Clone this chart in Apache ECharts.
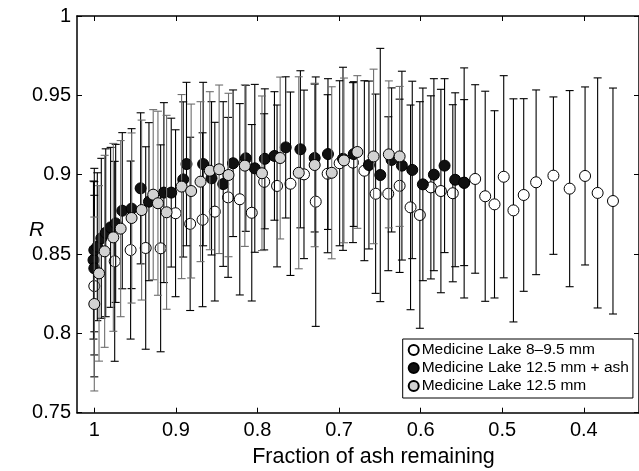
<!DOCTYPE html>
<html><head><meta charset="utf-8">
<script src="https://cdn.jsdelivr.net/npm/echarts@6/dist/echarts.min.js"></script>
<style>html,body{margin:0;padding:0;background:#fff}#c{width:639px;height:471px}</style>
</head><body><div id="c"></div>
<script>
const seriesNames = ['Medicine Lake 8–9.5 mm', 'Medicine Lake 12.5 mm + ash', 'Medicine Lake 12.5 mm'];
const xTickValues = [1, 0.9, 0.8, 0.7, 0.6, 0.5, 0.4];
const xTitle = 'Fraction of ash remaining';
const yTitle = 'R';

// Medicine Lake 8–9.5 mm (open)
const openX = [1.000,0.975,0.9555,0.937,0.9187,0.9004,0.8825,0.8673,0.8523,0.836,0.8217,0.807,0.7918,0.776,0.7596,0.743,0.7286,0.714,0.6993,0.683,0.669,0.6552,0.6397,0.6258,0.6124,0.601,0.5875,0.5752,0.5606,0.5467,0.5332,0.5209,0.5095,0.4982,0.4863,0.4737,0.4585,0.4373,0.4174,0.3985,0.3831,0.3643];
const openY = [0.8298,0.8454,0.8525,0.8538,0.8536,0.8757,0.869,0.8716,0.8767,0.8857,0.8845,0.876,0.8955,0.8929,0.8943,0.9002,0.883,0.9006,0.9072,0.9076,0.9025,0.888,0.888,0.893,0.8794,0.8746,0.892,0.8897,0.8883,0.8948,0.8973,0.8864,0.8813,0.8987,0.8775,0.8872,0.8952,0.8994,0.8912,0.8992,0.8885,0.8834];
const openErr = [0.0572,0.063,0.0561,0.0638,0.0652,0.0526,0.0546,0.0548,0.0563,0.0504,0.0603,0.0556,0.0429,0.051,0.0578,0.0531,0.0786,0.0498,0.052,0.0504,0.0567,0.0628,0.0485,0.0546,0.0645,0.0714,0.0577,0.0641,0.0558,0.0725,0.0594,0.0662,0.059,0.0637,0.0703,0.0607,0.0582,0.0496,0.0618,0.0561,0.0725,0.0712];

// Medicine Lake 12.5 mm + ash (black)
const ashX = [1.001,1.000,1.000,0.9963,0.9914,0.986,0.98,0.9738,0.9657,0.9543,0.9432,0.933,0.9147,0.9057,0.891,0.887,0.8666,0.8563,0.842,0.8299,0.8143,0.8033,0.791,0.7792,0.7654,0.7474,0.7299,0.7136,0.6952,0.682,0.6634,0.6495,0.6356,0.623,0.6103,0.5973,0.5838,0.5707,0.5577,0.5467];
const ashY = [0.8462,0.841,0.8525,0.8546,0.8599,0.8634,0.8668,0.8693,0.8773,0.8786,0.8914,0.883,0.8887,0.8887,0.897,0.9067,0.9067,0.8977,0.8941,0.9072,0.9103,0.904,0.910,0.9118,0.9172,0.916,0.9105,0.913,0.910,0.913,0.9061,0.8998,0.9093,0.9057,0.903,0.8939,0.9,0.9057,0.8968,0.895];
const ashErr = [0.0498,0.0546,0.0515,0.0466,0.0504,0.0529,0.0504,0.0498,0.0492,0.0504,0.0476,0.0498,0.0567,0.0469,0.0489,0.0515,0.0515,0.0483,0.0519,0.0462,0.046,0.0529,0.0441,0.0405,0.0445,0.0495,0.0466,0.0475,0.0577,0.0456,0.0529,0.0798,0.0454,0.0595,0.0559,0.0607,0.0605,0.0548,0.0548,0.0523];

// Medicine Lake 12.5 mm (gray)
const grayX = [1.000,0.9942,0.9873,0.9767,0.9677,0.9543,0.942,0.9278,0.922,0.9114,0.893,0.8813,0.8698,0.8584,0.847,0.8355,0.8155,0.7945,0.7722,0.7494,0.7299,0.709,0.694,0.6776,0.6577,0.639,0.6258];
const grayY = [0.8185,0.8378,0.8517,0.8605,0.866,0.8727,0.8777,0.8874,0.882,0.8763,0.8925,0.8897,0.8956,0.9025,0.9034,0.8998,0.9057,0.9009,0.9105,0.9012,0.9061,0.9012,0.909,0.9143,0.9115,0.9128,0.9115];
const grayErr = [0.0548,0.0553,0.0605,0.0592,0.0555,0.0536,0.0567,0.0536,0.058,0.0611,0.058,0.0548,0.0504,0.0498,0.0531,0.0515,0.0509,0.0487,0.051,0.0605,0.0515,0.0542,0.0519,0.0481,0.055,0.0463,0.0441];

function rows(xs, ys, es) { return xs.map((x, i) => [x, ys[i], es[i]]); }

function errRender(color) {
  return function (params, api) {
    const x = api.value(0), y = api.value(1), e = api.value(2);
    const t = api.coord([x, y + e]), b = api.coord([x, y - e]);
    const hw = 4;
    const st = { stroke: color, lineWidth: 1.1 };
    return { type: 'group', children: [
      { type: 'line', shape: { x1: t[0], y1: t[1], x2: b[0], y2: b[1] }, style: st },
      { type: 'line', shape: { x1: t[0] - hw, y1: t[1], x2: t[0] + hw, y2: t[1] }, style: st },
      { type: 'line', shape: { x1: b[0] - hw, y1: b[1], x2: b[0] + hw, y2: b[1] }, style: st }
    ]};
  };
}

const font = "'Liberation Sans', Arial, Helvetica, sans-serif";
const styles = [
  { fill: '#ffffff', bar: '#000000' },
  { fill: '#111111', bar: '#000000' },
  { fill: '#d2d2d2', bar: '#6e6e6e' }
];
const datasets = [rows(openX, openY, openErr), rows(ashX, ashY, ashErr), rows(grayX, grayY, grayErr)];

const series = [];
datasets.forEach((d, i) => {
  series.push({
    type: 'custom', name: seriesNames[i] + ' err', data: d, z: 2 + i * 2,
    renderItem: errRender(styles[i].bar), encode: { x: 0, y: 1 }, silent: true
  });
  series.push({
    type: 'scatter', name: seriesNames[i], data: d, z: 3 + i * 2,
    symbol: 'circle', symbolSize: 11,
    itemStyle: { color: styles[i].fill, borderColor: '#000', borderWidth: 1, opacity: 1 },
    encode: { x: 0, y: 1 }
  });
});

const xBase = {
  type: 'value', min: 0.3324, max: 1.0212, inverse: true,
  axisLine: { show: true, onZero: false, lineStyle: { color: '#000', width: 1.5 } },
  axisTick: { show: true, inside: true, length: 5, customValues: xTickValues, lineStyle: { color: '#000', width: 1 } },
  splitLine: { show: false }
};
const yBase = {
  type: 'value', min: 0.75, max: 1, interval: 0.05,
  axisLine: { show: true, onZero: false, lineStyle: { color: '#000', width: 1.5 } },
  axisTick: { show: true, inside: true, length: 5, lineStyle: { color: '#000', width: 1 } },
  splitLine: { show: false }
};

const chart = echarts.init(document.getElementById('c'), null, { renderer: 'canvas' });
chart.setOption({
  animation: false,
  backgroundColor: '#fff',
  textStyle: { fontFamily: font },
  grid: { left: 77, top: 16, right: -1, bottom: 58.3, containLabel: false },
  xAxis: [
    Object.assign({}, xBase, {
      position: 'bottom',
      axisLabel: { show: true, customValues: xTickValues, fontSize: 20, color: '#000', margin: 8, fontFamily: font }
    }),
    Object.assign({}, xBase, { position: 'top', axisLabel: { show: false } })
  ],
  yAxis: [
    Object.assign({}, yBase, {
      position: 'left',
      axisLabel: { show: true, fontSize: 20, color: '#000', margin: 6, fontFamily: font }
    }),
    Object.assign({}, yBase, { position: 'right', axisLabel: { show: false } })
  ],
  legend: {
    show: true, orient: 'vertical', left: 402.7, top: 339,
    data: seriesNames.map(n => ({ name: n, icon: 'circle' })),
    itemWidth: 10, itemHeight: 10, itemGap: 2,
    padding: [3, 4, 4, 5],
    borderColor: '#000', borderWidth: 1, backgroundColor: '#fff',
    textStyle: { fontSize: 15.5, color: '#000', fontFamily: font, padding: [0, 0, 0, -2] },
    selectedMode: false
  },
  graphic: [
    { type: 'text', left: 29, top: 220,
      style: { text: yTitle, font: "italic 21px 'Liberation Sans', Arial, sans-serif", fill: '#000' } },
    { type: 'text', x: 373.5, y: 457,
      style: { text: xTitle, font: "21.5px 'Liberation Sans', Arial, sans-serif", fill: '#000', align: 'center', verticalAlign: 'middle' } }
  ],
  series: series
});
</script></body></html>
